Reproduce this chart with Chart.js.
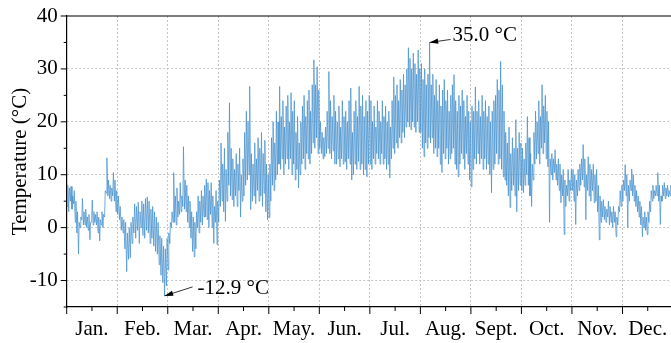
<!DOCTYPE html>
<html>
<head>
<meta charset="utf-8">
<script src="https://cdn.jsdelivr.net/npm/chart.js@4.4.1/dist/chart.umd.min.js"></script>
<style>
  html, body { margin: 0; padding: 0; overflow: hidden; background: #fff; }
</style>
</head>
<body>
<canvas id="myChart" width="674" height="343"></canvas>
<script>
const months = ['Jan.', 'Feb.', 'Mar.', 'Apr.', 'May.', 'Jun.', 'Jul.', 'Aug.', 'Sept.', 'Oct.', 'Nov.', 'Dec.'];
const yTicks = [-10, 0, 10, 20, 30, 40];

// daily lows / highs (°C), one value per day
const loJan = [4, 3, 5, 3.5, 4.5, 1, -1, -5, 0, 1.5, 0.5, 0.5, 0, -0.5, -2.3, 1, 0.5, 1, 0.5, -1, -2.5, 0.5, 0, 2, 6.5, 6, 5.5, 5, 6, 5, 3];
const hiJan = [8, 7.5, 7.8, 6, 7, 5, 3, 1, 2, 5.5, 3, 3.5, 2, 2.5, 1, 5.2, 3, 2.5, 3, 2, 1.5, 3, 2.5, 7, 13.2, 9, 8, 7.5, 10.4, 9, 7];
const loFeb = [2.5, 1.5, -0.5, -1, -4, -8.3, -6, -5.7, -3, -1, -2, -0.5, -3, 0, -1.5, -2, -0.5, -1, -3, -2, -3.5, -4.5, -5, -7, -9, -10.4, -12.9, -11];
const hiFeb = [6, 4, 2, 1.5, 1, -1, 0, 1, 2, 4.5, 4, 4.8, 3, 5, 4.5, 5.5, 5.8, 5, 3.5, 4, 3, 2, 1, -1.5, -2, -3.5, -4, -2];
const loMar = [-8, -3, 0, 1, 1, 0.5, 2, 2.5, 3, 4, 3.5, 3, 1, 0, -2, -4.5, -5.5, -4, 0, -1, 1, 0.5, 2, 2, 1.5, 0, 2.5, 0, -3, 1, -3.2];
const hiMar = [-1, 1, 3, 10.4, 6, 7.5, 5, 8.5, 6, 15.3, 9, 8, 6, 5, 3, 2, 1, 3, 6, 5, 7, 6, 8, 9.2, 8.5, 7, 8.5, 6, 4, 7, 5];
const loApr = [1, 4, 5, 3, 1.2, 5, 8, 6, 5.3, 4, 6, 4, 7, 2, 5, 6, 8, 9, 10, 3.4, 5, 6, 4.5, 7, 5, 6, 4, 6.5, 3, 1.5];
const hiApr = [9, 16, 12, 15, 11, 18, 23.6, 15, 13, 11, 14, 12, 15, 10, 13, 18, 22, 20, 26.7, 14, 12, 16, 13, 17, 15, 18, 14, 16.5, 12, 10];
const loMay = [1.9, 5, 8, 7, 9, 10, 12, 11, 13, 10, 12, 13, 11, 13, 10, 12, 9, 11, 7.5, 10, 12, 13, 11, 14, 13, 12, 14, 16, 15, 17, 14];
const hiMay = [12, 17, 20, 16, 22, 20, 26.7, 21, 24, 19, 23, 25, 20, 25.5, 22, 24, 18, 21, 16, 20, 23, 25, 21, 24, 26, 22, 27, 31.7, 27, 30.4, 26];
const loJun = [15, 14, 13, 13.4, 14, 15, 14, 13, 14.5, 12, 12, 13, 11.5, 13, 12, 12.5, 11, 13, 12, 9, 10, 12, 11, 12.5, 11, 12, 10, 11, 9.6, 12];
const hiJun = [20, 18, 17, 19, 22, 29.5, 24, 21, 25, 22, 20, 23, 19, 24, 21, 22, 20, 24, 26.4, 18, 22, 24, 21, 26.7, 23, 25, 21, 24, 22, 25];
const loJul = [12, 11, 13, 12, 14, 13, 12, 14, 12, 13, 11, 12, 9.4, 13, 15, 14, 16, 15, 17, 16, 18, 17, 19, 20, 19, 18.5, 20, 19, 18, 20, 18];
const hiJul = [24, 20, 23, 19, 24, 22, 20, 24, 21, 23, 20, 22, 19, 24, 28.5, 25, 27, 24, 28, 26, 29, 27, 30, 34, 32, 30, 33, 31, 29, 33.6, 30];
const loAug = [18, 15, 13.4, 16, 15, 17, 16, 17, 14, 15, 13.4, 15, 12, 10.4, 14, 13, 15, 12, 13, 14, 15, 12, 11, 9.6, 12, 14, 13, 11, 14, 12, 9];
const hiAug = [31, 28, 30, 27, 29, 35, 27, 29, 25, 28, 24, 27, 23, 26, 28, 24, 26, 22, 25, 27, 28.9, 24, 22, 25, 23, 26, 24, 21, 25, 22, 20];
const loSep = [7.7, 11, 13, 12, 14, 12, 13, 11, 13, 11, 12, 10, 6.6, 11, 12, 14, 12, 13, 11, 9.6, 9, 8, 6, 3.8, 7, 8, 6, 3, 7, 8];
const hiSep = [23, 22, 26.6, 22, 24, 21, 25, 22, 24, 21, 23, 20, 22, 24, 25, 28, 26, 31.4, 27, 22, 18, 16, 19, 14, 17, 15, 20.4, 15, 18, 16];
const loOct = [7, 6.6, 8, 10, 8, 6, 4, 9, 12, 13, 14, 12, 15, 14, 16, 13, 11.5, 1, 10, 9, 10.4, 9, 8, 7, 4.7, 6, -1.3, 4, 6, 5, 7];
const hiOct = [15, 13, 16, 21, 17, 14, 12, 18, 22, 20, 24, 21, 27, 23, 25, 22, 20, 13, 14, 13, 14.7, 12, 13, 12, 10, 11, 9, 8, 11, 9, 11];
const loNov = [7, 5, 0.6, 6, 7, 8, 9, 7.7, 1.5, 7, 6, 5, 7, 4.7, 5, 3, -2.3, 1, 2, 1.5, 1, 2, 0.5, 1, 0, 1, -1.7, 0.5, 3, 4];
const hiNov = [11, 10, 9, 11, 12, 13, 15.7, 13, 10, 13.4, 12, 11, 12, 10, 11, 8, 6, 5, 5.3, 4, 3.5, 5, 4, 3, 4, 3, 2, 4, 7, 8];
const loDec = [5, 7, 6, 0, 5, 7, 6, 5, 4, 3, 2, 0.5, -1.7, 0, -0.5, -1.3, 1, 3, 5, 5.5, 6, 6, 5, 0.6, 5, 6, 5.5, 6, 5.8, 6, 6];
const hiDec = [9, 11.9, 10, 8, 9, 11.1, 10, 8, 7, 6, 5, 4, 2, 3, 2, 3, 5, 7, 8, 7, 8, 10.4, 8, 6, 8, 8.5, 7.5, 8, 7, 8, 7.5];

const lows = [loJan, loFeb, loMar, loApr, loMay, loJun, loJul, loAug, loSep, loOct, loNov, loDec];
const highs = [hiJan, hiFeb, hiMar, hiApr, hiMay, hiJun, hiJul, hiAug, hiSep, hiOct, hiNov, hiDec];

// x in months: morning low then afternoon high for each day
const temps = [];
lows.forEach((lo, m) => {
  const n = lo.length;
  lo.forEach((v, d) => {
    temps.push({ x: m + (d + 0.25) / n, y: v });
    temps.push({ x: m + (d + 0.65) / n, y: highs[m][d] });
  });
});

const font = '"Liberation Serif", "Times New Roman", serif';

// frame top line, tick marks, min/max arrows
const extras = {
  id: 'extras',
  afterDraw(chart) {
    const { ctx, chartArea: a, scales: { x, y } } = chart;
    ctx.save();
    ctx.strokeStyle = '#000';
    ctx.lineWidth = 1.2;
    ctx.beginPath();
    ctx.moveTo(a.left, a.top);
    ctx.lineTo(a.right, a.top);
    ctx.stroke();

    ctx.lineWidth = 1;
    ctx.beginPath();
    for (let v = 0; v <= 12; v += 0.5) {
      const px = x.getPixelForValue(v);
      const len = v % 1 === 0 ? 7 : 4;
      ctx.moveTo(px, a.bottom);
      ctx.lineTo(px, a.bottom + len);
    }
    for (let v = -15; v <= 40; v += 5) {
      const py = y.getPixelForValue(v);
      const len = v % 10 === 0 ? 6 : 3;
      ctx.moveTo(a.left - len, py);
      ctx.lineTo(a.left, py);
    }
    ctx.stroke();

    let lo = temps[0], hi = temps[0];
    temps.forEach(p => { if (p.y < lo.y) lo = p; if (p.y > hi.y) hi = p; });

    ctx.fillStyle = '#000';
    ctx.font = '21px ' + font;
    ctx.textBaseline = 'middle';
    ctx.textAlign = 'left';
    const note = (p, dx, dy, tdx, tdy) => {
      const px = x.getPixelForValue(p.x), py = y.getPixelForValue(p.y);
      const tx = px + dx, ty = py + dy;
      const ang = Math.atan2(py - ty, px - tx);
      ctx.lineWidth = 0.8;
      ctx.beginPath();
      ctx.moveTo(tx, ty);
      ctx.lineTo(px, py);
      ctx.stroke();
      ctx.beginPath();
      ctx.moveTo(px, py);
      ctx.lineTo(px - 9 * Math.cos(ang - 0.3), py - 9 * Math.sin(ang - 0.3));
      ctx.lineTo(px - 9 * Math.cos(ang + 0.3), py - 9 * Math.sin(ang + 0.3));
      ctx.closePath();
      ctx.fill();
      ctx.fillText(p.y.toFixed(1) + ' °C', tx + tdx, ty + tdy);
    };
    note(lo, 28, -9, 5, 2);
    note(hi, 21, -3, 2, -4);
    ctx.restore();
  }
};

new Chart(document.getElementById('myChart'), {
  type: 'line',
  data: {
    datasets: [{
      label: 'Temperature',
      data: temps,
      borderColor: 'rgb(72, 146, 206)',
      borderWidth: 0.75,
      pointRadius: 0,
      tension: 0,
      fill: false
    }]
  },
  options: {
    responsive: false,
    animation: false,
    devicePixelRatio: 1,
    layout: { padding: { top: 16, right: 1, left: 0, bottom: 0 } },
    plugins: { legend: { display: false }, tooltip: { enabled: false } },
    scales: {
      x: {
        type: 'linear',
        min: 0,
        max: 12,
        afterBuildTicks: s => { s.ticks = []; for (let v = 0; v <= 12; v += 0.5) s.ticks.push({ value: v }); },
        afterFit: s => { s.height = 36; s.paddingLeft = 0; s.paddingRight = 0; },
        ticks: {
          autoSkip: false,
          maxRotation: 0,
          padding: 10,
          color: '#000',
          font: { family: font, size: 21 },
          callback: v => (v % 1 === 0 ? '' : months[Math.floor(v)])
        },
        grid: {
          drawTicks: false,
          color: c => (c.tick && c.tick.value % 1 === 0 && c.tick.value > 0 ? '#c4c4c4' : 'rgba(0,0,0,0)'),
          lineWidth: 1
        },
        border: { color: '#000', width: 1.2, dash: [2, 2] }
      },
      y: {
        min: -15,
        max: 40,
        afterBuildTicks: s => { s.ticks = yTicks.map(v => ({ value: v })); },
        afterFit: s => { s.width = 66.7; },
        ticks: {
          padding: 9,
          color: '#000',
          font: { family: font, size: 21, lineHeight: 0.5 }
        },
        title: {
          display: true,
          text: 'Temperature (°C)',
          color: '#000',
          font: { family: font, size: 21 },
          padding: { top: 8 }
        },
        grid: {
          drawTicks: false,
          color: c => (c.tick && c.tick.value < 40 ? '#c4c4c4' : 'rgba(0,0,0,0)'),
          lineWidth: 1
        },
        border: { color: '#000', width: 1.2, dash: [2, 2] }
      }
    }
  },
  plugins: [extras]
});
</script>
</body>
</html>
